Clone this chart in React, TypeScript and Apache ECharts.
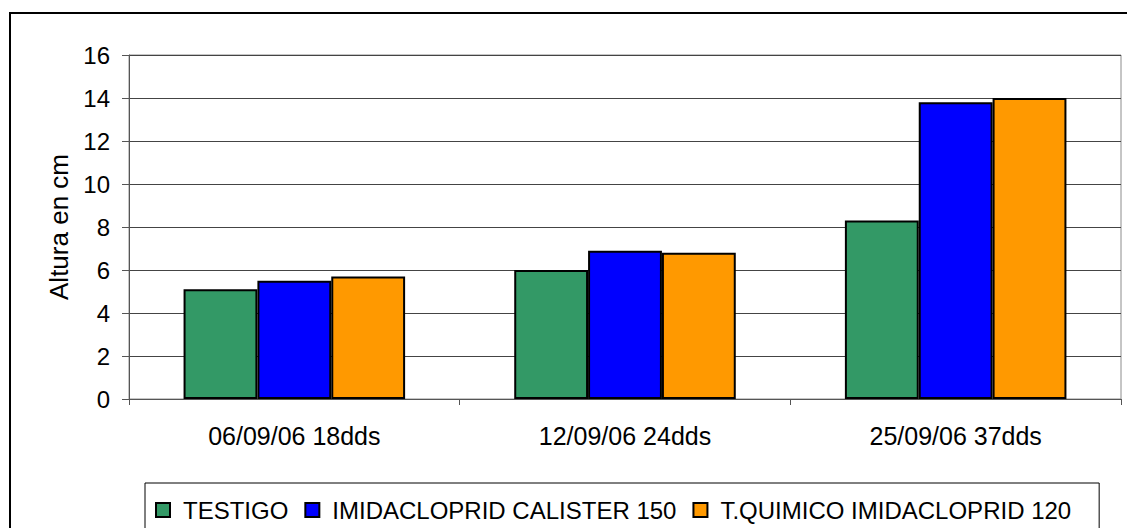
import React, { useEffect, useRef } from "react";
import * as echarts from "echarts";

const categories = ["06/09/06 18dds", "12/09/06 24dds", "25/09/06 37dds"];
const seriesNames = ["TESTIGO", "IMIDACLOPRID CALISTER 150", "T.QUIMICO IMIDACLOPRID 120"];
const testigo = [5.1, 6.0, 8.3];
const calister = [5.5, 6.9, 13.8];
const quimico = [5.7, 6.8, 14.0];
const colors = ["#339966", "#0000FF", "#FF9900"];
const yTicks = { min: 0, max: 16, interval: 2 };

export default function App() {
  const ref = useRef<HTMLDivElement>(null);
  useEffect(() => {
    if (!ref.current) return;
    const chart = echarts.init(ref.current, undefined, { renderer: "svg" });
    const font = "Liberation Sans, Arial, sans-serif";
    const data = [testigo, calister, quimico];
    chart.setOption({
      animation: false,
      backgroundColor: "#ffffff",
      textStyle: { fontFamily: font },
      grid: {
        left: 129,
        top: 55,
        right: 6,
        bottom: 129,
        show: true,
        borderColor: "#8c8c8c",
        borderWidth: 1,
        backgroundColor: "transparent",
      },
      graphic: [
        {
          type: "rect",
          shape: { x: 10, y: 13, width: 1200, height: 600 },
          style: { fill: "none", stroke: "#000000", lineWidth: 2 },
          silent: true,
        },
      ],
      legend: {
        left: 145,
        top: 483,
        orient: "horizontal",
        data: seriesNames,
        itemWidth: 14,
        itemHeight: 14,
        itemGap: 16,
        icon: "rect",
        borderColor: "#000000",
        borderWidth: 1,
        padding: [15, 28, 40, 10],
        textStyle: { fontSize: 24, color: "#000000", fontFamily: font, padding: [0, 0, 0, 8] },
      },
      xAxis: {
        type: "category",
        data: categories,
        axisLine: { show: true, lineStyle: { color: "#555555", width: 1 } },
        axisTick: { show: true, length: 6, lineStyle: { color: "#555555" } },
        axisLabel: { fontSize: 25, color: "#000000", margin: 24, fontFamily: font },
        splitLine: { show: false },
      },
      yAxis: {
        type: "value",
        min: yTicks.min,
        max: yTicks.max,
        interval: yTicks.interval,
        name: "Altura en cm",
        nameLocation: "middle",
        nameRotate: 90,
        nameGap: 57,
        nameTextStyle: { fontSize: 26, color: "#000000", fontFamily: font },
        axisLine: { show: true, lineStyle: { color: "#555555", width: 1 } },
        axisTick: { show: true, length: 7, lineStyle: { color: "#555555" } },
        axisLabel: { fontSize: 24, color: "#000000", margin: 19, fontFamily: font },
        splitLine: { show: true, lineStyle: { color: "#444444", width: 1 } },
      },
      series: seriesNames.map((name, i) => ({
        name,
        type: "bar",
        data: data[i],
        barGap: "0%",
        barCategoryGap: "33%",
        itemStyle: { color: colors[i], borderColor: "#000000", borderWidth: 2 },
      })),
    });
    return () => chart.dispose();
  }, []);
  return <div ref={ref} style={{ width: 1127, height: 528, position: "absolute", left: 0, top: 0 }} />;
}
